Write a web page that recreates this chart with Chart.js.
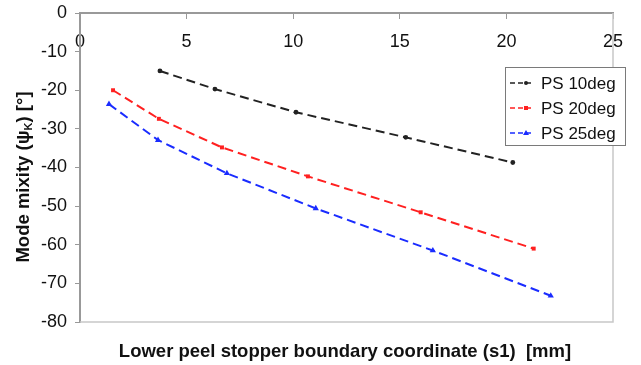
<!DOCTYPE html>
<html>
<head>
<meta charset="utf-8">
<script src="https://cdn.jsdelivr.net/npm/chart.js@4/dist/chart.umd.min.js"></script>
<style>
  html, body { margin: 0; padding: 0; background: #fff; }
  #wrap { width: 641px; height: 365px; }
</style>
</head>
<body>
<div id="wrap"><canvas id="peelChart"></canvas></div>
<script>
// boundary coordinate s1 [mm] and mode mixity [deg]
const seriesNames = ['PS 10deg', 'PS 20deg', 'PS 25deg'];
const s1_10 = [3.75, 6.33, 10.13, 15.28, 20.30];
const psi_10 = [-15.0, -19.7, -25.7, -32.2, -38.7];
const s1_20 = [1.55, 3.70, 6.66, 10.69, 15.98, 21.28];
const psi_20 = [-20.0, -27.4, -34.8, -42.3, -51.6, -61.0];
const s1_25 = [1.36, 3.66, 6.89, 11.06, 16.55, 22.08];
const psi_25 = [-23.6, -32.9, -41.5, -50.6, -61.5, -73.2];
const xTicks = [0, 5, 10, 15, 20, 25];
const yTicks = [0, -10, -20, -30, -40, -50, -60, -70, -80];

const colors = ['#222222', '#ff2020', '#1a2cff'];
const markers = ['circle', 'rect', 'triangle'];
const FONT = '"Liberation Sans", Arial, sans-serif';

function pts(xs, ys) {
   return xs.map((x, i) => ({ x: x, y: ys[i] }));
}

// draws the frame, the axis titles and the boxed legend
const extras = {
   id: 'extras',
   afterDraw(chart) {
      const c = chart.ctx;
      const a = chart.chartArea;
      c.save();
      // light frame on right and bottom
      c.strokeStyle = '#c8c8c8';
      c.lineWidth = 1.5;
      c.beginPath();
      c.moveTo(a.right, a.top);
      c.lineTo(a.right, a.bottom);
      c.lineTo(a.left, a.bottom);
      c.stroke();

      // x axis title
      c.fillStyle = '#111';
      c.font = 'bold 18.5px ' + FONT;
      c.textAlign = 'center';
      c.textBaseline = 'middle';
      c.fillText('Lower peel stopper boundary coordinate (s1)  [mm]', 345, 352);

      // y axis title, with subscript K
      c.textAlign = 'left';
      c.translate(24, 177);
      c.rotate(-Math.PI / 2);
      const parts = [['Mode mixity (\u03c8', 18.5, 0], ['K', 11, 5], [') [\u00b0]', 18.5, 0]];
      let w = 0;
      parts.forEach(p => { c.font = 'bold ' + p[1] + 'px ' + FONT; w += c.measureText(p[0]).width; });
      let x = -w / 2;
      parts.forEach(p => {
         c.font = 'bold ' + p[1] + 'px ' + FONT;
         c.fillText(p[0], x, p[2]);
         x += c.measureText(p[0]).width;
      });
      c.restore();

      // legend
      c.save();
      const lx = a.right - 108, ly = a.top + 54;
      c.fillStyle = '#fff';
      c.fillRect(lx, ly, 120, 78);
      c.strokeStyle = '#7a7a7a';
      c.lineWidth = 1;
      c.strokeRect(lx + 0.5, ly + 0.5, 120, 78);
      seriesNames.forEach((name, i) => {
         const y = ly + 16 + i * 25;
         c.strokeStyle = colors[i];
         c.lineWidth = 1.5;
         c.setLineDash([5, 3]);
         c.beginPath();
         c.moveTo(lx + 5, y);
         c.lineTo(lx + 28, y);
         c.stroke();
         c.setLineDash([]);
         c.fillStyle = colors[i];
         if (markers[i] === 'circle') {
            c.beginPath(); c.arc(lx + 21, y, 2, 0, Math.PI * 2); c.fill();
         } else if (markers[i] === 'rect') {
            c.fillRect(lx + 19, y - 2, 4, 4);
         } else {
            c.beginPath(); c.moveTo(lx + 21, y - 3); c.lineTo(lx + 24, y + 2); c.lineTo(lx + 18, y + 2); c.closePath(); c.fill();
         }
         c.fillStyle = '#111';
         c.font = '17px ' + FONT;
         c.textBaseline = 'middle';
         c.fillText(name, lx + 36, y + 1);
      });
      c.restore();
   }
};

const ctx = document.getElementById('peelChart').getContext('2d');
const peelChart = new Chart(ctx, {
   type: 'line',
   data: {
      datasets: [
         { label: seriesNames[0], data: pts(s1_10, psi_10) },
         { label: seriesNames[1], data: pts(s1_20, psi_20) },
         { label: seriesNames[2], data: pts(s1_25, psi_25) }
      ].map((d, i) => Object.assign(d, {
         borderColor: colors[i],
         backgroundColor: colors[i],
         borderWidth: 2,
         borderDash: [9, 5],
         pointStyle: markers[i],
         pointRadius: [2.4, 2.8, 3.6][i],
         pointBorderWidth: 0,
         tension: 0,
         fill: false
      }))
   },
   options: {
      responsive: true,
      maintainAspectRatio: false,
      animation: false,
      layout: { padding: { left: 0, top: 13, right: 28, bottom: 43 } },
      plugins: {
         legend: { display: false },
         tooltip: { enabled: false }
      },
      scales: {
         x: {
            type: 'linear',
            position: { y: 0 },
            min: 0,
            max: 25,
            afterBuildTicks: s => { s.ticks = xTicks.map(v => ({ value: v })); },
            afterFit: s => { s.paddingLeft = 0; s.paddingRight = 0; s.paddingTop = 0; s.paddingBottom = 0; },
            grid: { drawOnChartArea: false, tickLength: 5, color: '#999' },
            border: { color: '#999', width: 2 },
            ticks: { color: '#111', font: { family: FONT, size: 18 }, padding: 13, maxRotation: 0 }
         },
         y: {
            type: 'linear',
            position: 'left',
            min: -80,
            max: 0,
            afterBuildTicks: s => { s.ticks = yTicks.map(v => ({ value: v })); },
            afterFit: s => { s.width = 80; s.paddingTop = 0; s.paddingBottom = 0; },
            grid: { drawOnChartArea: false, tickLength: 5, color: '#999' },
            border: { color: '#999', width: 2 },
            ticks: { color: '#111', font: { family: FONT, size: 18 }, padding: 8 }
         }
      }
   },
   plugins: [extras]
});
</script>
</body>
</html>
